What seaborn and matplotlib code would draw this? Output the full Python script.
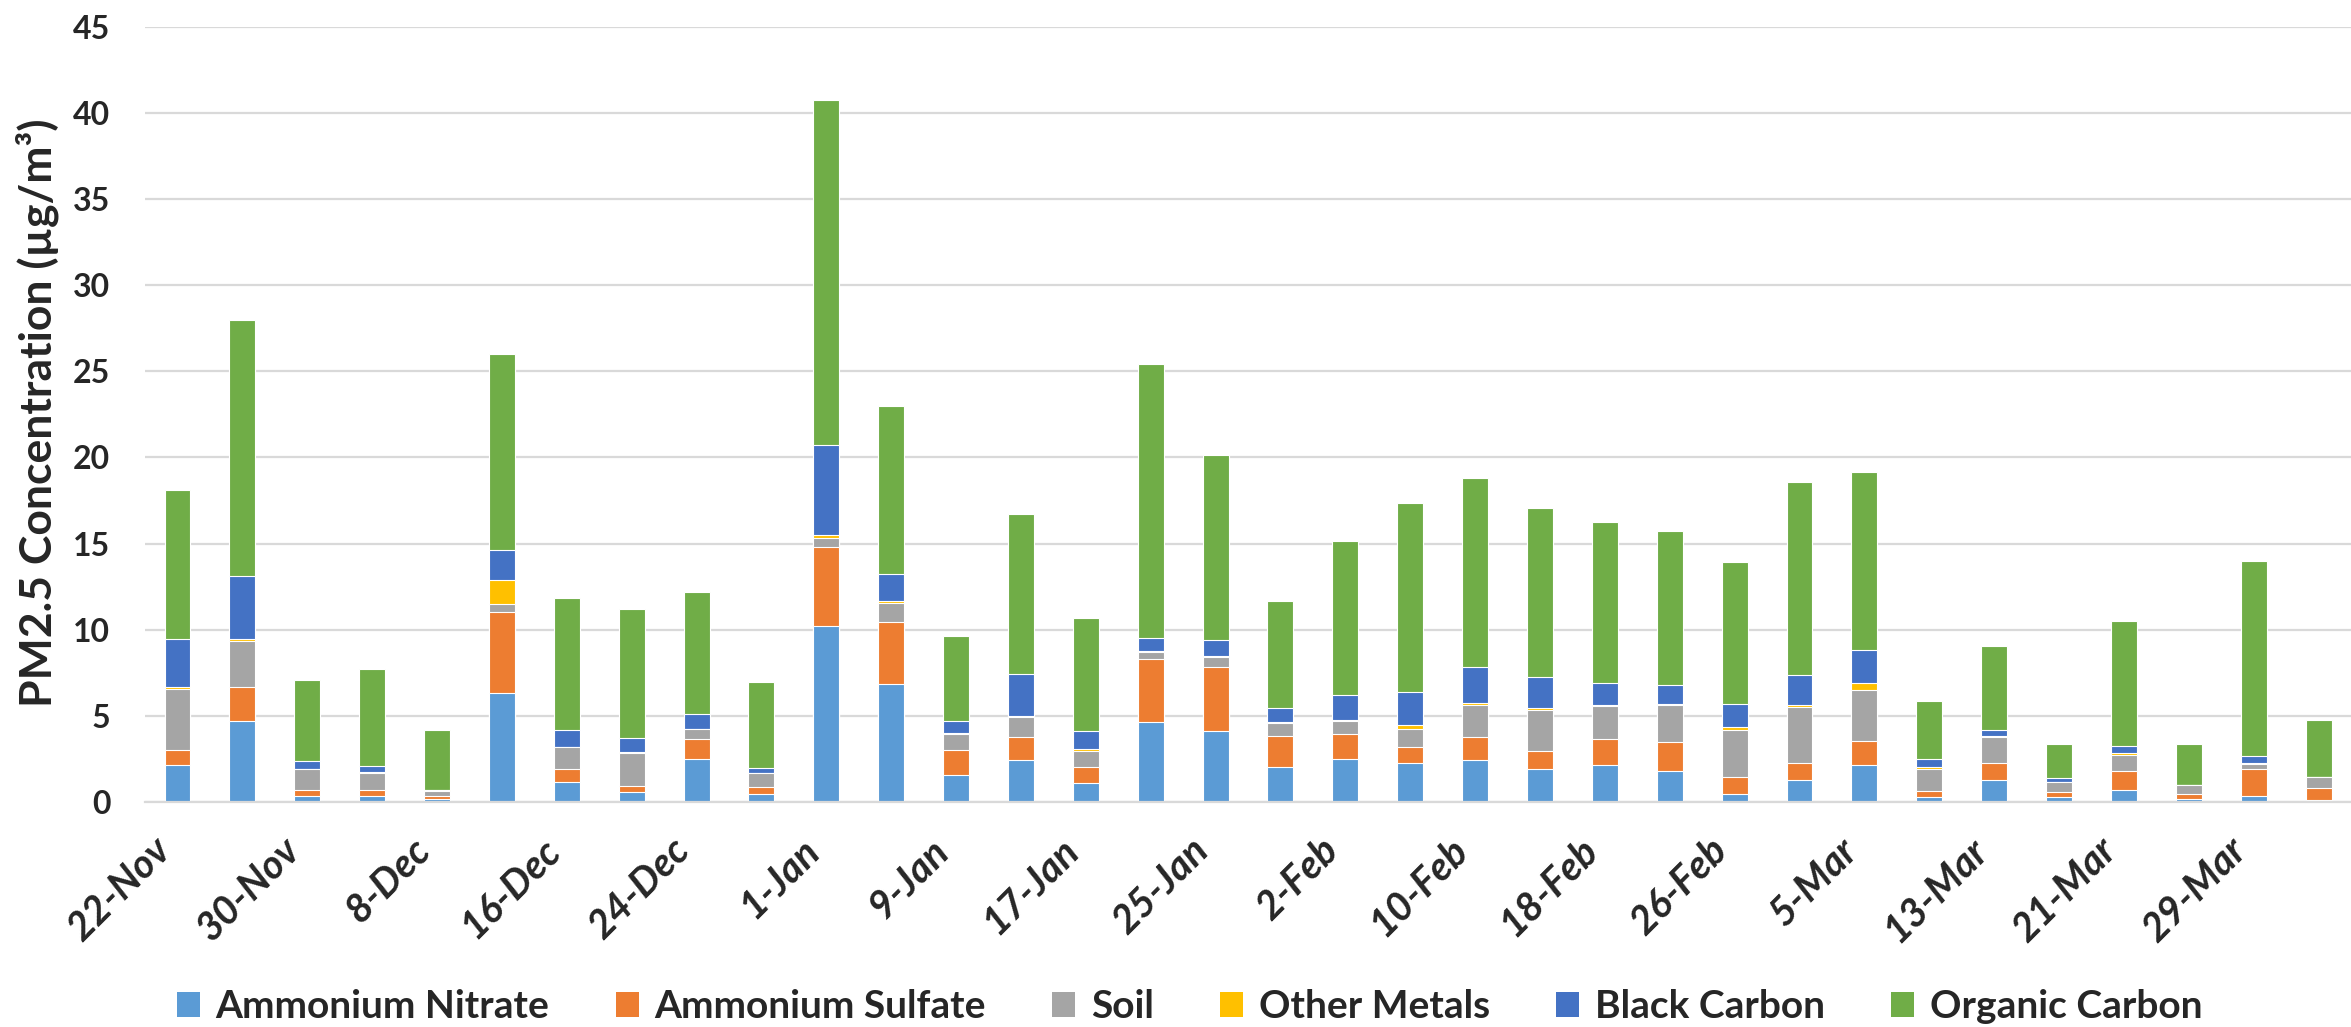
import matplotlib
matplotlib.use('Agg')
import matplotlib.pyplot as plt
import matplotlib.transforms as mtransforms
from matplotlib.patches import Patch
import seaborn as sns
import pandas as pd
import numpy as np

# sampling dates (every 4 days), only every second one is labelled
dates = ['22-Nov', '26-Nov', '30-Nov', '4-Dec', '8-Dec', '12-Dec', '16-Dec', '20-Dec',
         '24-Dec', '28-Dec', '1-Jan', '5-Jan', '9-Jan', '13-Jan', '17-Jan', '21-Jan',
         '25-Jan', '29-Jan', '2-Feb', '6-Feb', '10-Feb', '14-Feb', '18-Feb', '22-Feb',
         '26-Feb', '1-Mar', '5-Mar', '9-Mar', '13-Mar', '17-Mar', '21-Mar', '25-Mar',
         '29-Mar', '2-Apr']

ammonium_nitrate = [2.17, 4.70, 0.37, 0.37, 0.17, 6.33, 1.18, 0.60, 2.49, 0.49, 10.23, 6.85,
                    1.55, 2.47, 1.13, 4.62, 4.12, 2.06, 2.52, 2.29, 2.47, 1.90, 2.17, 1.79,
                    0.49, 1.26, 2.17, 0.27, 1.26, 0.27, 0.72, 0.17, 0.37, 0.12]
ammonium_sulfate = [0.88, 1.96, 0.31, 0.35, 0.20, 4.68, 0.72, 0.35, 1.16, 0.36, 4.59, 3.58,
                    1.50, 1.28, 0.93, 3.71, 3.74, 1.75, 1.46, 0.91, 1.28, 1.07, 1.48, 1.67,
                    0.97, 1.03, 1.36, 0.37, 1.03, 0.33, 1.11, 0.32, 1.55, 0.68]
soil = [3.51, 2.66, 1.22, 0.95, 0.29, 0.49, 1.28, 1.90, 0.58, 0.84, 0.52, 1.12,
        0.89, 1.18, 0.93, 0.39, 0.57, 0.77, 0.72, 1.07, 1.86, 2.35, 1.92, 2.19,
        2.75, 3.24, 2.96, 1.26, 1.46, 0.57, 0.91, 0.48, 0.31, 0.64]
other_metals = [0.12, 0.16, 0.04, 0.10, 0.04, 1.39, 0.04, 0.04, 0.02, 0.02, 0.16, 0.10,
                0.08, 0.04, 0.08, 0.06, 0.04, 0.06, 0.06, 0.22, 0.14, 0.12, 0.04, 0.04,
                0.16, 0.10, 0.42, 0.12, 0.11, 0.02, 0.08, 0.02, 0.04, 0.02]
black_carbon = [2.76, 3.63, 0.47, 0.31, 0.02, 1.75, 0.99, 0.84, 0.86, 0.29, 5.21, 1.59,
                0.66, 2.45, 1.03, 0.77, 0.93, 0.80, 1.47, 1.88, 2.09, 1.80, 1.28, 1.09,
                1.30, 1.75, 1.89, 0.48, 0.35, 0.19, 0.46, 0.02, 0.41, 0.02]
organic_carbon = [8.70, 14.84, 4.66, 5.63, 3.47, 11.36, 7.65, 7.45, 7.10, 4.97, 20.02, 9.75,
                  4.95, 9.31, 6.60, 15.87, 10.75, 6.21, 8.92, 11.00, 10.99, 9.80, 9.36, 8.93,
                  8.29, 11.18, 10.35, 3.36, 4.82, 2.00, 7.21, 2.35, 11.34, 3.26]

species = ['Ammonium Nitrate', 'Ammonium Sulfate', 'Soil', 'Other Metals',
           'Black Carbon', 'Organic Carbon']
colors = ['#5B9BD5', '#ED7D31', '#A5A5A5', '#FFC000', '#4472C4', '#70AD47']

sns.set_theme(style='white')
# Lato is the closest installed match to Calibri
plt.rcParams['font.family'] = ['Lato', 'DejaVu Sans']
plt.rcParams['font.weight'] = 'bold'

df = pd.DataFrame({
    'date': dates,
    'Ammonium Nitrate': ammonium_nitrate,
    'Ammonium Sulfate': ammonium_sulfate,
    'Soil': soil,
    'Other Metals': other_metals,
    'Black Carbon': black_carbon,
    'Organic Carbon': organic_carbon,
})
# running totals, so the stack can be drawn top layer first
cum = df[species].cumsum(axis=1)
cum['date'] = df['date']

fig = plt.figure(figsize=(23.51, 10.27), dpi=100)
ax = fig.add_axes([0.0617, 0.219, 0.9383, 0.755])

for name, color in reversed(list(zip(species, colors))):
    sns.barplot(data=cum, x='date', y=name, order=dates, color=color, saturation=1,
                width=0.4, errorbar=None, edgecolor='white', linewidth=0.8, ax=ax)

ax.set_ylim(0, 45)
ax.set_yticks(range(0, 46, 5))
ax.set_xlim(-0.5, len(dates) - 0.5)
ax.yaxis.grid(True, color='#D9D9D9', linewidth=1.6)
ax.set_axisbelow(True)
for side in ['left', 'top', 'right']:
    ax.spines[side].set_visible(False)
ax.spines['bottom'].set_color('#D9D9D9')
ax.spines['bottom'].set_linewidth(1.6)

ax.set_xticks(range(0, len(dates), 2))
ax.set_xticklabels(dates[::2], rotation=45, ha='right', fontsize=28.5,
                   fontstyle='italic', fontweight='bold')
# nudge the slanted labels right so their ends sit just past the bar centre
shift = mtransforms.ScaledTranslation(0.28, 0, fig.dpi_scale_trans)
for lab in ax.get_xticklabels():
    lab.set_transform(lab.get_transform() + shift)
ax.set_xticks(np.arange(-0.5, len(dates), 1), minor=True)
ax.tick_params(axis='x', which='major', length=0, pad=21)
ax.tick_params(axis='x', which='minor', length=11, width=1.6, color='#D9D9D9')
ax.tick_params(axis='y', length=0, pad=25, labelsize=23)
for lab in ax.get_yticklabels():
    lab.set_fontweight('bold')
ax.set_xlabel('')
ax.set_ylabel('')

fig.text(0.016, 0.598, 'PM2.5 Concentration (\u00b5g/m\u00b3)', rotation=90,
         ha='center', va='center', fontsize=32, fontweight='bold')

handles = [Patch(facecolor=c, edgecolor='none') for c in colors]
fig.legend(handles, species, loc='center', bbox_to_anchor=(0.506, 0.02), ncol=6,
           frameon=False, fontsize=28, handlelength=0.6, handleheight=0.6,
           handletextpad=0.4, columnspacing=1.7)

plt.savefig('out.png', dpi=100)
plt.close()
